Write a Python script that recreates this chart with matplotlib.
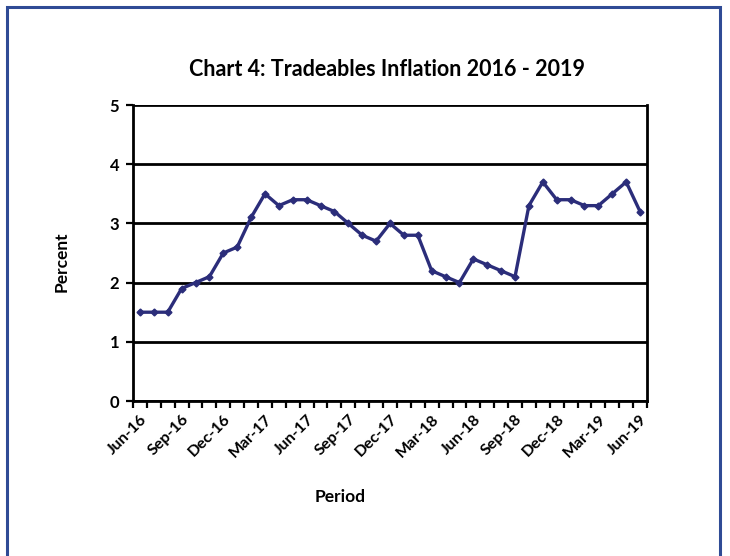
import matplotlib
matplotlib.use("Agg")
import matplotlib.pyplot as plt
from matplotlib.patches import Rectangle
import numpy as np

months = ["Jun-16","Jul-16","Aug-16","Sep-16","Oct-16","Nov-16","Dec-16",
          "Jan-17","Feb-17","Mar-17","Apr-17","May-17","Jun-17","Jul-17","Aug-17","Sep-17","Oct-17","Nov-17","Dec-17",
          "Jan-18","Feb-18","Mar-18","Apr-18","May-18","Jun-18","Jul-18","Aug-18","Sep-18","Oct-18","Nov-18","Dec-18",
          "Jan-19","Feb-19","Mar-19","Apr-19","May-19","Jun-19"]
inflation = [1.5, 1.5, 1.5, 1.9, 2.0, 2.1, 2.5,
             2.6, 3.1, 3.5, 3.3, 3.4, 3.4, 3.3, 3.2, 3.0, 2.8, 2.7, 3.0,
             2.8, 2.8, 2.2, 2.1, 2.0, 2.4, 2.3, 2.2, 2.1, 3.3, 3.7, 3.4,
             3.4, 3.3, 3.3, 3.5, 3.7, 3.2]
yticks = [0, 1, 2, 3, 4, 5]

FONT = ["Lato", "DejaVu Sans"]
plt.rcParams['font.family'] = FONT

fig = plt.figure(figsize=(7.3, 5.56), dpi=100)
W, H = 730, 556
ax = fig.add_axes([133/W, 1-401/H, (647-133)/W, (401-105)/H])

x = np.arange(len(inflation))
ax.plot(x, inflation, color="#2B2D7A", lw=2.4, marker="D", ms=3.5, zorder=3)

ax.set_xlim(-0.5, len(inflation)-0.5)
ax.set_ylim(0, 5)
ax.set_yticks(yticks)
ax.set_yticklabels([str(v) for v in yticks], fontsize=12, fontweight="bold")
ax.yaxis.grid(True, color="black", lw=2)
ax.set_axisbelow(True)

lab_idx = list(range(0, len(months), 3))
ax.set_xticks(lab_idx)
ax.set_xticklabels([months[i] for i in lab_idx], rotation=45, ha="right",
                   rotation_mode="anchor", fontsize=11.5, fontweight="bold")
ax.set_xticks(np.arange(-0.5, len(months), 1.0), minor=True)
ax.tick_params(axis="x", which="major", length=0, pad=8)
ax.tick_params(axis="x", which="minor", length=5, width=1.6, direction="out")
ax.tick_params(axis="y", length=5, width=1.6, direction="out", pad=5)

for s in ["left", "right", "bottom", "top"]:
    ax.spines[s].set_linewidth(2)
    ax.spines[s].set_color("black")
ax.spines["top"].set_visible(False)

fig.text(387/W, 1-70/H, "Chart 4: Tradeables Inflation 2016 - 2019",
         ha="center", va="center", fontsize=15.5, fontweight="bold")
fig.text(62/W, 1-262/H, "Percent", ha="center", va="center", rotation=90,
         fontsize=12.5, fontweight="bold")
fig.text(340/W, 1-497/H, "Period", ha="center", va="center",
         fontsize=12.5, fontweight="bold")

fig.patches.append(Rectangle((7/W, -0.05), (720-7)/W, 1-7/H+0.05,
                             transform=fig.transFigure, fill=False,
                             edgecolor="#2F4B95", lw=2.2))

fig.savefig("out.png", dpi=100)
